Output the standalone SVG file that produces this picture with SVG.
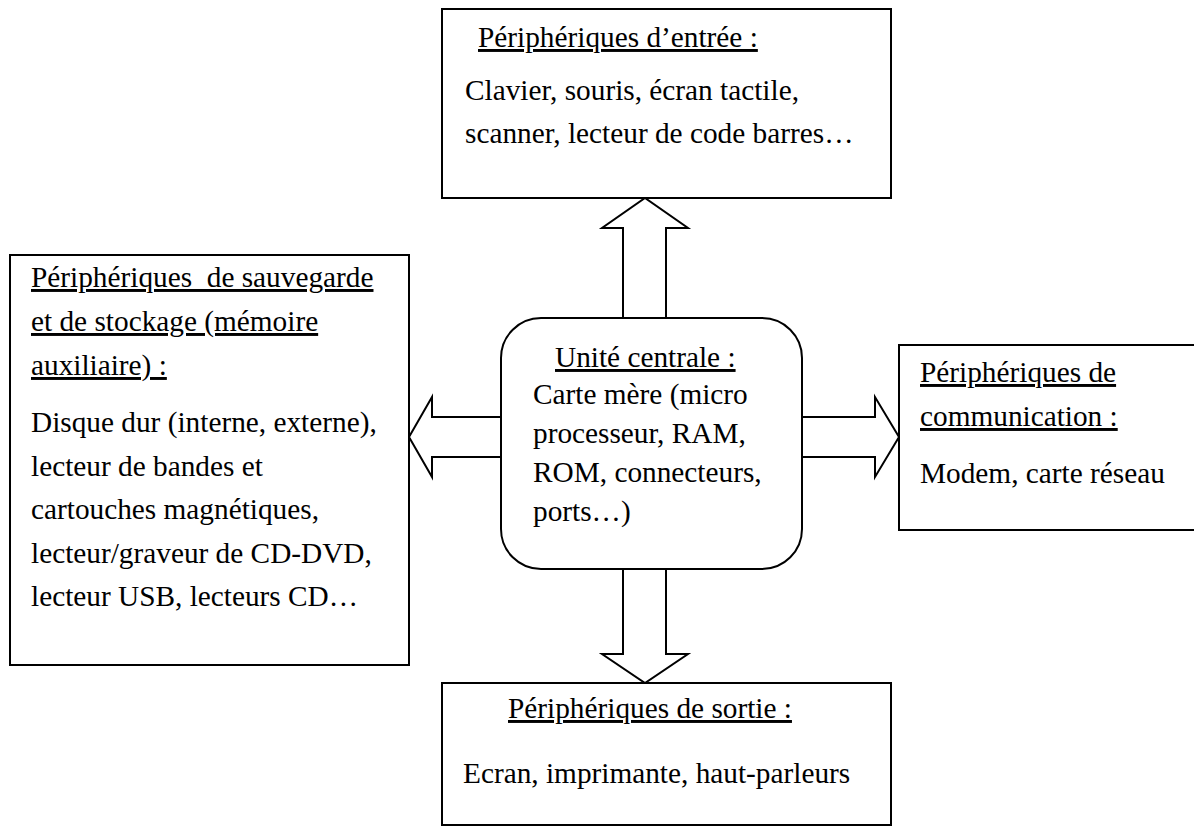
<svg xmlns="http://www.w3.org/2000/svg" width="1194" height="826" viewBox="0 0 1194 826">
  <style>
    .box { fill: #fff; stroke: #000; stroke-width: 2; }
    .arrow { fill: #fff; stroke: #000; stroke-width: 2; stroke-linejoin: miter; }
    text { font-family: "Liberation Serif", "Times New Roman", serif; font-size: 29.3px; fill: #000; white-space: pre; }
    .title { text-decoration: underline; }
  </style>
  <rect width="1194" height="826" fill="#fff"/>

  <!-- block arrows linking the central unit to each peripheral group -->
  <g id="connectors">
    <polygon class="arrow" points="623,318 623,228 602,228 645,198 688,228 666,228 666,318"/>
    <polygon class="arrow" points="623,568 623,654 602,654 645,683 688,654 666,654 666,568"/>
    <polygon class="arrow" points="502,417 432,417 432,397 409,437 432,477 432,457 502,457"/>
    <polygon class="arrow" points="801,417 875,417 875,397 899,437 875,477 875,457 801,457"/>
  </g>

  <g id="entree">
    <rect class="box" x="442" y="9" width="449" height="189"/>
    <text class="title" x="478" y="47">Périphériques d’entrée :</text>
    <text x="465" y="100">Clavier, souris, écran tactile,</text>
    <text x="465" y="143">scanner, lecteur de code barres…</text>
  </g>

  <g id="stockage">
    <rect class="box" x="10" y="255" width="399" height="410"/>
    <text class="title" x="31" y="287">Périphériques  de sauvegarde</text>
    <text class="title" x="31" y="331">et de stockage (mémoire</text>
    <text class="title" x="31" y="375">auxiliaire) :</text>
    <text x="31" y="432">Disque dur (interne, externe),</text>
    <text x="31" y="475.5">lecteur de bandes et</text>
    <text x="31" y="519">cartouches magnétiques,</text>
    <text x="31" y="562.5">lecteur/graveur de CD-DVD,</text>
    <text x="31" y="606">lecteur USB, lecteurs CD…</text>
  </g>

  <g id="unite-centrale">
    <rect class="box" x="501" y="318" width="301" height="251" rx="40" ry="40"/>
    <text class="title" x="555" y="367">Unité centrale :</text>
    <text x="533" y="404">Carte mère (micro</text>
    <text x="533" y="443">processeur, RAM,</text>
    <text x="533" y="482">ROM, connecteurs,</text>
    <text x="533" y="521">ports…)</text>
  </g>

  <g id="communication">
    <rect class="box" x="899" y="345" width="310" height="185"/>
    <text class="title" x="920" y="382">Périphériques de</text>
    <text class="title" x="920" y="426">communication :</text>
    <text x="920" y="483">Modem, carte réseau</text>
  </g>

  <g id="sortie">
    <rect class="box" x="442" y="683" width="449" height="142"/>
    <text class="title" x="508" y="718">Périphériques de sortie :</text>
    <text x="463" y="783">Ecran, imprimante, haut-parleurs</text>
  </g>
</svg>
